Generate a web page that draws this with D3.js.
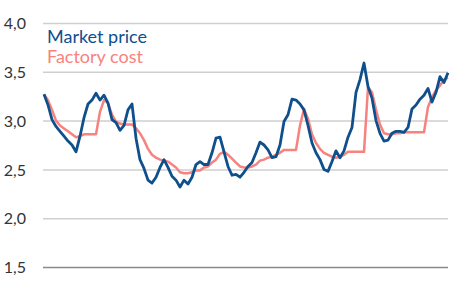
<!DOCTYPE html>
<html>
<head>
<meta charset="utf-8">
<script src="https://cdn.jsdelivr.net/npm/d3@7"></script>
<style>
  body { margin: 0; background: #fff; }
  svg { display: block; font-family: Lato, "Open Sans", sans-serif; }
</style>
</head>
<body>
<div id="chart"></div>
<script>
/* global d3 */

// weekly readings, left to right
var marketPrice = [
    3.27, 3.16, 3.01, 2.94, 2.89, 2.84, 2.79, 2.75, 2.68, 2.84,
    3.03, 3.17, 3.21, 3.28, 3.21, 3.26, 3.18, 3.01, 2.98, 2.90,
    2.95, 3.11, 3.17, 2.82, 2.60, 2.51, 2.39, 2.36, 2.42, 2.52,
    2.60, 2.52, 2.43, 2.39, 2.32, 2.39, 2.35, 2.42, 2.55, 2.58,
    2.55, 2.55, 2.67, 2.82, 2.83, 2.68, 2.53, 2.44, 2.45, 2.42,
    2.47, 2.53, 2.57, 2.67, 2.78, 2.75, 2.70, 2.62, 2.63, 2.75,
    2.99, 3.06, 3.22, 3.21, 3.17, 3.11, 2.95, 2.77, 2.67, 2.60,
    2.50, 2.48, 2.58, 2.69, 2.62, 2.69, 2.83, 2.93, 3.29, 3.42,
    3.59, 3.35, 3.23, 3.00, 2.87, 2.79, 2.80, 2.87, 2.89, 2.89,
    2.88, 2.93, 3.12, 3.16, 3.22, 3.26, 3.33, 3.19, 3.29, 3.45,
    3.39, 3.49
];

var factoryCost = [
    3.27, 3.21, 3.11, 3.00, 2.95, 2.92, 2.89, 2.86, 2.83, 2.84,
    2.86, 2.86, 2.86, 2.86, 3.09, 3.21, 3.18, 3.06, 2.99, 2.97,
    2.96, 2.96, 2.96, 2.92, 2.87, 2.80, 2.71, 2.65, 2.62, 2.60,
    2.59, 2.58, 2.55, 2.52, 2.47, 2.46, 2.46, 2.47, 2.49, 2.49,
    2.52, 2.53, 2.57, 2.60, 2.66, 2.68, 2.65, 2.61, 2.57, 2.53,
    2.52, 2.52, 2.53, 2.55, 2.59, 2.60, 2.62, 2.63, 2.65, 2.67,
    2.70, 2.70, 2.70, 2.70, 2.95, 3.12, 3.02, 2.86, 2.77, 2.71,
    2.67, 2.65, 2.63, 2.62, 2.63, 2.65, 2.68, 2.68, 2.68, 2.68,
    2.68, 3.34, 3.29, 3.11, 2.96, 2.87, 2.86, 2.86, 2.87, 2.87,
    2.88, 2.88, 2.88, 2.88, 2.88, 2.88, 3.14, 3.24, 3.31, 3.36,
    3.42, 3.44
];

var yTicks = [1.5, 2.0, 2.5, 3.0, 3.5, 4.0];
var seriesNames = ["Market price", "Factory cost"];

var width = 450;
var height = 300;

var blue = "#0f4f8c";
var pink = "#f7827e";

var locale = d3.formatLocale({decimal: ",", thousands: ".", grouping: [3], currency: ["", "€"]});
var fmt = locale.format(".1f");

var svg = d3.select("#chart")
    .append("svg")
    .attr("width", width)
    .attr("height", height);

var x = d3.scaleLinear()
    .domain([0, marketPrice.length - 1])
    .range([44, 448]);

var y = d3.scaleLinear()
    .domain([1.5, 4.0])
    .range([267, 23]);

// gridlines
var grid = svg.append("g")
    .attr("transform", "translate(43,0)")
    .call(d3.axisRight(y).tickValues(yTicks).tickSize(405).tickFormat(""));
grid.select(".domain").remove();
grid.selectAll("line")
    .attr("stroke", d => d === 1.5 ? "#8a8a8a" : "#cfcfcf")
    .attr("stroke-width", 1.5);

// y labels
var yAxis = svg.append("g")
    .attr("transform", "translate(26,0)")
    .call(d3.axisLeft(y).tickValues(yTicks).tickSize(0).tickPadding(0).tickFormat(fmt));
yAxis.select(".domain").remove();
yAxis.selectAll("text")
    .attr("fill", "#333")
    .attr("font-size", 16)
    .attr("font-family", "Lato, sans-serif")
    .attr("dy", "0.35em");

var line = d3.line()
    .x((d, i) => x(i))
    .y(d => y(d));

svg.append("path")
    .datum(factoryCost)
    .attr("fill", "none")
    .attr("stroke", pink)
    .attr("stroke-width", 2.5)
    .attr("stroke-linejoin", "round")
    .attr("d", line);

svg.append("path")
    .datum(marketPrice)
    .attr("fill", "none")
    .attr("stroke", blue)
    .attr("stroke-width", 2.8)
    .attr("stroke-linejoin", "round")
    .attr("d", line);

// legend
svg.selectAll(".legend")
    .data(seriesNames)
    .enter().append("text")
    .attr("class", "legend")
    .attr("x", 47)
    .attr("y", (d, i) => 43 + i * 20)
    .attr("font-size", 18)
    .attr("fill", (d, i) => i === 0 ? blue : pink)
    .text(d => d);
</script>
</body>
</html>
